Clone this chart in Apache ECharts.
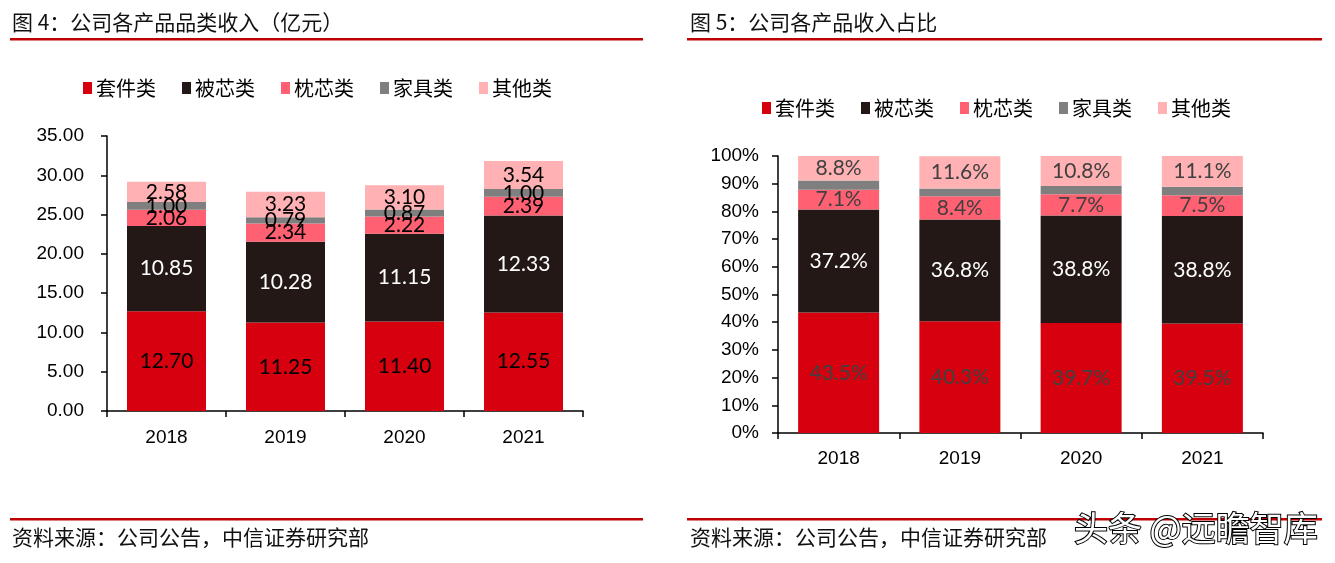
<!DOCTYPE html>
<html>
<head>
<meta charset="utf-8">
<script src="https://cdn.jsdelivr.net/npm/echarts@6/dist/echarts.min.js"></script>
<style>
html,body{margin:0;padding:0;background:#fff;}
#c{width:1335px;height:563px;}
</style>
</head>
<body>
<div id="c"></div>
<script>
const categories = ['2018', '2019', '2020', '2021'];
const seriesNames = ['套件类', '被芯类', '枕芯类', '家具类', '其他类'];
// Figure 4: revenue (亿元)
const revTaojian = [12.70, 11.25, 11.40, 12.55];
const revBeixin = [10.85, 10.28, 11.15, 12.33];
const revZhenxin = [2.06, 2.34, 2.22, 2.39];
const revJiaju = [1.00, 0.79, 0.87, 1.00];
const revQita = [2.58, 3.23, 3.10, 3.54];
// Figure 5: share (%)
const shareTaojian = [43.5, 40.3, 39.7, 39.5];
const shareBeixin = [37.2, 36.8, 38.8, 38.8];
const shareZhenxin = [7.1, 8.4, 7.7, 7.5];
const shareJiaju = [3.4, 2.8, 3.0, 3.1];
const shareQita = [8.8, 11.6, 10.8, 11.1];

const title1 = '图 4：公司各产品品类收入（亿元）';
const title2 = '图 5：公司各产品收入占比';
const sourceText = '资料来源：公司公告，中信证券研究部';
const watermark = '头条 @远瞻智库';

const colors = ['#D7000F', '#231815', '#FF6072', '#7F7F7F', '#FFB1B3'];
const CJK = "'Noto Sans CJK SC', sans-serif";
const NUM = "Lato, 'Open Sans', sans-serif";
const AX = "'Liberation Sans', Arial, sans-serif";

const revData = [revTaojian, revBeixin, revZhenxin, revJiaju, revQita];
const shareData = [shareTaojian, shareBeixin, shareZhenxin, shareJiaju, shareQita];
const revLabelColor = ['#000', '#fff', '#000', '#000', '#000'];
const shareLabelColor = ['#404040', '#fff', '#404040', null, '#404040'];

const series = [];
seriesNames.forEach((name, i) => {
  series.push({
    name: name, type: 'bar', stack: 'a', xAxisIndex: 0, yAxisIndex: 0,
    barWidth: 79, data: revData[i], itemStyle: { color: colors[i] },
    label: {
      show: true, position: 'inside', color: revLabelColor[i],
      fontFamily: NUM, fontSize: 21,
      offset: i === 2 ? [0, 5] : [0, 0],
      formatter: p => Number(p.value).toFixed(2)
    },
    labelLayout: { hideOverlap: false },
    emphasis: { disabled: true }
  });
});
seriesNames.forEach((name, i) => {
  series.push({
    name: name, type: 'bar', stack: 'b', xAxisIndex: 1, yAxisIndex: 1,
    barWidth: 81, data: shareData[i], itemStyle: { color: colors[i] },
    label: {
      show: shareLabelColor[i] !== null, position: 'inside', color: shareLabelColor[i] || '#000',
      fontFamily: NUM, fontSize: 21,
      formatter: p => Number(p.value).toFixed(1) + '%'
    },
    emphasis: { disabled: true }
  });
});

const axisLine = { show: true, lineStyle: { color: '#000', width: 1.5 } };
const axisTick = { show: true, length: 6, lineStyle: { color: '#000', width: 1.5 } };

const legendText = { fontFamily: CJK, fontSize: 20, color: '#000', padding: [0, 0, 0, -1] };

const option = {
  animation: false,
  backgroundColor: '#fff',
  grid: [
    { left: 107, top: 136, width: 476, height: 275 },
    { left: 778, top: 156, width: 485, height: 277 }
  ],
  legend: [
    {
      data: seriesNames, left: 78, top: 73, itemWidth: 9, itemHeight: 12, itemGap: 26,
      icon: 'rect', selectedMode: false, textStyle: legendText
    },
    {
      data: seriesNames, left: 757, top: 93, itemWidth: 9, itemHeight: 12, itemGap: 26,
      icon: 'rect', selectedMode: false, textStyle: legendText
    }
  ],
  xAxis: [
    {
      type: 'category', gridIndex: 0, data: categories, axisLine: axisLine, axisTick: axisTick,
      axisLabel: { color: '#000', fontFamily: AX, fontSize: 19, margin: 17 }
    },
    {
      type: 'category', gridIndex: 1, data: categories, axisLine: axisLine, axisTick: axisTick,
      axisLabel: { color: '#000', fontFamily: AX, fontSize: 19, margin: 16 }
    }
  ],
  yAxis: [
    {
      type: 'value', gridIndex: 0, min: 0, max: 35, interval: 5,
      axisLine: axisLine, axisTick: axisTick, splitLine: { show: false },
      axisLabel: { color: '#000', fontFamily: AX, fontSize: 19, margin: 23,
        formatter: v => v.toFixed(2) }
    },
    {
      type: 'value', gridIndex: 1, min: 0, max: 100, interval: 10,
      axisLine: axisLine, axisTick: axisTick, splitLine: { show: false },
      axisLabel: { color: '#000', fontFamily: AX, fontSize: 19, margin: 19,
        formatter: v => v + '%' }
    }
  ],
  graphic: [
    { type: 'text', left: 12, top: 12, style: { text: title1, font: "21px 'Noto Sans CJK SC'", fill: '#111' } },
    { type: 'text', left: 690, top: 12, style: { text: title2, font: "21px 'Noto Sans CJK SC'", fill: '#111' } },
    { type: 'rect', shape: { x: 10, y: 38, width: 633, height: 2.5 }, style: { fill: '#C00000' } },
    { type: 'rect', shape: { x: 687, y: 38, width: 635, height: 2.5 }, style: { fill: '#C00000' } },
    { type: 'rect', shape: { x: 10, y: 518, width: 633, height: 2.5 }, style: { fill: '#C00000' } },
    { type: 'rect', shape: { x: 687, y: 518, width: 635, height: 2.5 }, style: { fill: '#C00000' } },
    { type: 'text', left: 12, top: 527, style: { text: sourceText, font: "21px 'Noto Sans CJK SC'", fill: '#111' } },
    { type: 'text', left: 690, top: 527, style: { text: sourceText, font: "21px 'Noto Sans CJK SC'", fill: '#111' } },
    { type: 'text', left: 1073, top: 510, z: 100,
      style: { text: watermark, font: "34px 'Noto Sans CJK SC'", fill: '#fff', stroke: '#000', lineWidth: 2 } }
  ],
  series: series
};

const chart = echarts.init(document.getElementById('c'), null, { renderer: 'canvas' });
chart.setOption(option);
</script>
</body>
</html>
